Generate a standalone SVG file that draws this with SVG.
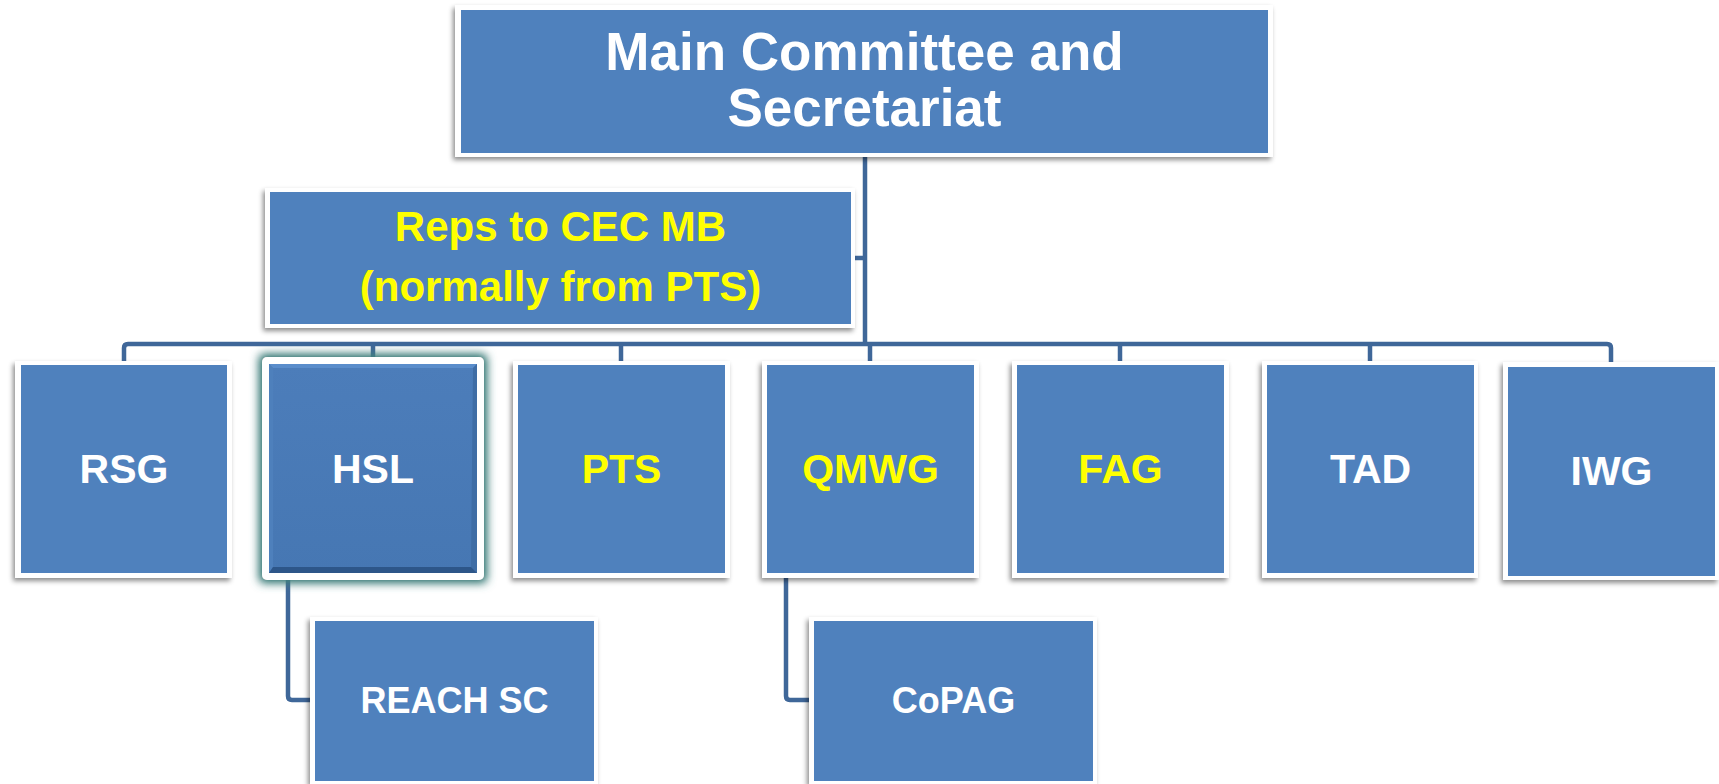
<svg xmlns="http://www.w3.org/2000/svg" width="1719" height="784" viewBox="0 0 1719 784">
<defs>
<filter id="sh" x="-10%" y="-10%" width="120%" height="125%">
<feDropShadow dx="-2" dy="3" stdDeviation="2.5" flood-color="#000" flood-opacity="0.45"/>
</filter>
<filter id="glow" x="-20%" y="-20%" width="140%" height="140%">
<feMorphology in="SourceAlpha" operator="dilate" radius="3" result="d"/>
<feGaussianBlur in="d" stdDeviation="5" result="b0"/>
<feComponentTransfer in="b0" result="b"><feFuncA type="linear" slope="1.2"/></feComponentTransfer>
<feFlood flood-color="#41807D" flood-opacity="1"/>
<feComposite in2="b" operator="in" result="g"/>
<feMerge><feMergeNode in="g"/><feMergeNode in="SourceGraphic"/></feMerge>
</filter>
<linearGradient id="hslg" x1="0" y1="0" x2="0" y2="1">
<stop offset="0" stop-color="#4C7DBA"/>
<stop offset="1" stop-color="#4677B3"/>
</linearGradient>
</defs>
<style>
.frame{fill:#ffffff;filter:url(#sh)}
.box{fill:#4F81BD}
.conn{fill:none;stroke:#3F6799;stroke-width:4.5;stroke-linejoin:round;stroke-linecap:butt}
text{font-family:"Liberation Sans",Arial,sans-serif;font-weight:bold;text-anchor:middle}
.w{fill:#ffffff}
.y{fill:#FFFF00}
</style>

<g id="connectors">
<path class="conn" d="M865,153 V344"/>
<path class="conn" d="M853,258 H865"/>
<path class="conn" d="M124,362 V348 Q124,344 128,344 H1607 Q1611,344 1611,348 V364"/>
<path class="conn" d="M373,344 V360"/>
<path class="conn" d="M621,344 V362"/>
<path class="conn" d="M870,344 V362"/>
<path class="conn" d="M1120,344 V362"/>
<path class="conn" d="M1370,344 V362"/>
<path class="conn" d="M288,580 V696 Q288,700 292,700 H316"/>
<path class="conn" d="M786,577 V696 Q786,700 790,700 H815"/>
</g>

<g id="main">
<rect class="frame" x="455" y="5" width="818" height="152"/>
<rect class="box" x="461" y="10" width="807" height="143"/>
<text class="w" x="864.5" y="70" font-size="53">Main Committee and</text>
<text class="w" x="864.5" y="126" font-size="53">Secretariat</text>
</g>

<g id="reps">
<rect class="frame" x="265" y="188" width="590" height="140"/>
<rect class="box" x="270" y="192" width="581" height="132"/>
<text class="y" x="560.5" y="241" font-size="42">Reps to CEC MB</text>
<text class="y" x="560.5" y="301" font-size="42">(normally from PTS)</text>
</g>

<g id="rsg">
<rect class="frame" x="15" y="361" width="217" height="217"/>
<rect class="box" x="21" y="365" width="206" height="208"/>
<text class="w" x="124" y="483" font-size="41">RSG</text>
</g>

<g id="hsl">
<rect x="262" y="357" width="222" height="223" rx="5" fill="#ffffff" filter="url(#glow)"/>
<rect x="269" y="364" width="208" height="209" fill="url(#hslg)"/>
<polygon points="269,364 477,364 473,368 273,368" fill="#5A8DCB"/>
<polygon points="269,364 273,368 273,567 269,573" fill="#4E80BC"/>
<polygon points="477,364 473,368 471,567 477,573" fill="#3F6DA5"/>
<polygon points="269,573 273,567 471,567 477,573" fill="#2D5689"/>
<text class="w" x="373" y="483" font-size="41">HSL</text>
</g>

<g id="pts">
<rect class="frame" x="513" y="361" width="217" height="217"/>
<rect class="box" x="518" y="365" width="207" height="208"/>
<text class="y" x="621.5" y="483" font-size="41">PTS</text>
</g>

<g id="qmwg">
<rect class="frame" x="762" y="361" width="217" height="217"/>
<rect class="box" x="767" y="365" width="207" height="208"/>
<text class="y" x="870.5" y="483" font-size="41">QMWG</text>
</g>

<g id="fag">
<rect class="frame" x="1012" y="361" width="217" height="217"/>
<rect class="box" x="1017" y="365" width="207" height="208"/>
<text class="y" x="1120.5" y="483" font-size="41">FAG</text>
</g>

<g id="tad">
<rect class="frame" x="1262" y="361" width="216" height="217"/>
<rect class="box" x="1267" y="365" width="207" height="208"/>
<text class="w" x="1370.5" y="483" font-size="41">TAD</text>
</g>

<g id="iwg">
<rect class="frame" x="1503" y="362" width="216" height="218"/>
<rect class="box" x="1508" y="367" width="207" height="209"/>
<text class="w" x="1611.5" y="485" font-size="41">IWG</text>
</g>

<g id="reach">
<rect class="frame" x="310" y="617" width="288" height="167"/>
<rect class="box" x="315" y="621" width="279" height="160"/>
<text class="w" x="454.5" y="713" font-size="36">REACH SC</text>
</g>

<g id="copag">
<rect class="frame" x="809" y="617" width="288" height="167"/>
<rect class="box" x="814" y="621" width="279" height="160"/>
<text class="w" x="953.5" y="713" font-size="36">CoPAG</text>
</g>
</svg>
